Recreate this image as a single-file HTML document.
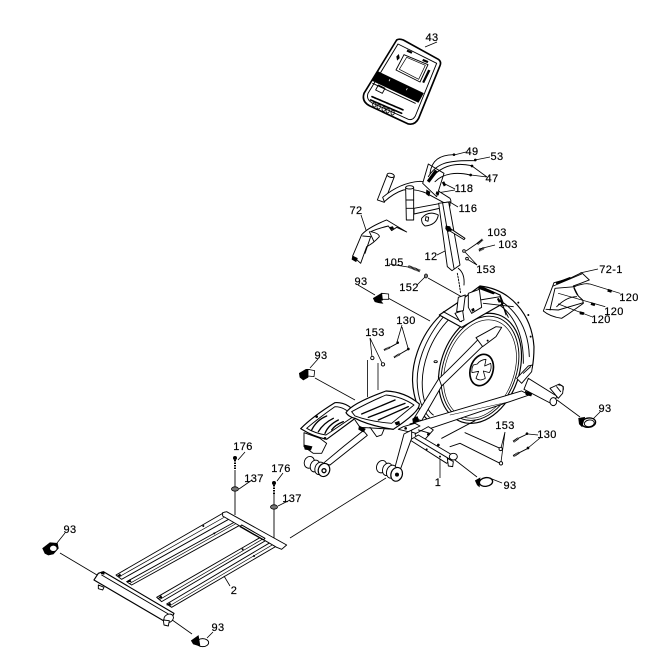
<!DOCTYPE html>
<html><head><meta charset="utf-8"><style>
html,body{margin:0;padding:0;background:#fff}
svg{display:block}
text{font-family:"Liberation Sans",sans-serif;font-size:11px;fill:#000;text-anchor:middle;letter-spacing:.4px;stroke:#000;stroke-width:.2px}
.z{fill:#fff;stroke:#000;stroke-width:2.8;stroke-linejoin:round;stroke-linecap:round}
.n{fill:none;stroke:#000;stroke-width:2.8;stroke-linejoin:round;stroke-linecap:round}
.k{fill:#000;stroke:#000;stroke-width:2}
.h{fill:none;stroke:#000;stroke-width:8;stroke-dasharray:3 1}
.l{fill:none;stroke:#000;stroke-width:.8}
</style></head><body>
<svg width="668" height="651" viewBox="0 0 668 651" xmlns="http://www.w3.org/2000/svg">
<rect width="668" height="651" fill="#fff"/>

<!-- leader / exploded lines in page coords -->
<g class="l">
<path d="M60 553L97 575"/><path d="M168 617L192 634"/>
<path d="M290 538L386 478"/>
<path d="M315 378L355 400"/><path d="M388 298L430 321"/><path d="M428 278L462 297"/>
<path d="M455 460L477 477M557 400L580 417"/>
<path d="M505 432L501 448M505 432L501 462M538 435L528 434M540 438L528 448"/>
<path d="M440 457V478"/>
<path d="M65 533L57 543M213 632L207 638M502 483L492 479M600 412L592 420M318 359L310 368M358 285L375 295"/>
<path d="M230 586L224 576M437 42L425 47"/>
<path d="M361 215L367 233M437 255L453 247"/>
<path d="M466 152L454 155M490 157L475 160M487 177L472 166M487 177L471 175"/>
<path d="M455 189L443 183M455 190L437 193M458 207L430 190"/>
<path d="M482 240L466 251M495 245L479 249M477 265L465 252M477 265L467 259"/>
<path d="M389 264L408 267M417 285L426 276"/>
<path d="M370 338L372 357M370 338L382 363M402 325L397 342M402 327L408 348"/>
<path d="M367.5 360V397M378 363V390"/>
<path d="M245 452L238 460M283 473L277 481M252 480L239 489M290 500L278 506"/>
<path d="M598 269L580 273"/>
</g>

<!-- 43 console -->
<g transform="translate(340,20) scale(.3333)">
<path class="z" style="stroke-width:5" d="M170 60Q178 55 190 60L295 118Q305 125 300 137L236 295Q225 316 205 312L90 258Q64 245 72 220Z"/>
<path class="n" d="M174 72L290 130L226 288Q218 302 205 298L95 248Q78 238 84 220Z"/>
<path class="z" d="M192 104L264 134L240 186L168 150Z"/>
<path class="z" style="stroke-width:2" d="M200 112L256 136L236 178L178 148Z"/>
<path class="k" d="M203 90L216 96L214 100L201 94ZM250 118L264 124L262 128L248 122Z"/>
<path class="k" d="M265 150L248 186L252 188L270 152Z"/><path class="k" d="M170 110l6 -6l2 10l-6 6Z"/>
<path class="k" d="M112 154L250 220L235 247L98 182Z"/>
<path fill="#fff" d="M146 183l3-6 2 1-3 6zM198 210l3-6 2 1-3 6z"/>
<path class="n" d="M98 190L226 250M115 195l20 10-8 15-20-10z"/>
<path class="n" d="M96 230L190 270M92 240L185 280" style="stroke-width:5;stroke-dasharray:5 3"/>
<g class="n" style="stroke-width:2.5"><ellipse cx="103" cy="254" rx="5" ry="7"/><ellipse cx="116" cy="260" rx="5" ry="7"/><ellipse cx="131" cy="267" rx="5" ry="7"/><ellipse cx="143" cy="272" rx="5" ry="7"/><ellipse cx="158" cy="278" rx="5" ry="7"/></g>
</g>

<!-- handles + mast -->
<g transform="translate(340,140) scale(.3333)">
<path class="z" d="M142 103L163 110L133 187L112 180Z"/><ellipse class="z" cx="152" cy="106" rx="11" ry="6" transform="rotate(15 152 106)"/>
<path class="z" d="M128 172Q180 128 240 124Q262 124 300 156L330 175Q340 195 315 190L260 160Q225 145 190 150Q160 160 133 185Z"/>
<path class="z" d="M222 205L330 185L330 198L222 222Z"/>
<path class="z" d="M197 142L221 142L221 240L199 240Z"/><ellipse class="z" cx="209" cy="142" rx="12" ry="5"/>
<path class="n" d="M199 180H221M199 205H221"/>
<path class="z" d="M265 72L312 100L290 170L248 130Z"/>
<path class="k" d="M262 122L285 90L292 95L268 127Z"/><path class="k" d="M260 150l10 6-3 12-8-6zM290 155l7 3-2 7-7-3zM312 125l5 10-5 3-5-10z"/>
<path class="n" d="M270 100C275 60 300 45 340 44M265 110C290 70 320 60 405 62M270 118C300 80 340 65 395 77M285 125C310 100 350 95 390 105"/>
<circle class="k" cx="342" cy="44" r="3"/><circle class="k" cx="406" cy="60" r="3"/><circle class="k" cx="396" cy="78" r="3"/><circle class="k" cx="392" cy="105" r="3"/>
<path class="n" d="M245 235Q265 210 295 225Q290 255 255 258Q243 250 245 235Z"/><path class="n" d="M258 230l8 2-2 12-8-3z"/>
<path class="z" d="M296 190L326 186L360 375L336 392L322 380Z"/>
<path class="n" d="M308 190L342 385"/>
<path class="z" d="M330 265L375 295L372 299L328 272Z"/><path class="k" d="M318 258l12 2 4 12-11 3-6-9z"/>
<path class="n" d="M355 385Q375 400 372 435"/><path class="n" d="M352 400Q358 430 362 462" style="stroke-dasharray:5 4"/>
<path class="h" d="M205 379L240 393"/>
<ellipse cx="258" cy="408" rx="5" ry="6" fill="#777" stroke="#000" stroke-width="2"/>
<path class="h" style="stroke-width:7" d="M412 312L428 298M417 332L432 324"/>
<circle class="z" cx="372" cy="333" r="4"/><circle class="z" cx="381" cy="356" r="4"/>
<path class="z" d="M38 348L65 284Q85 262 140 240L200 276L170 262L155 272L145 258Q115 265 92 275Q118 280 118 290Q100 310 80 320L62 370Z"/>
<path class="n" d="M68 288L92 290L75 340M88 275L102 305"/>
<path class="k" d="M38 348L52 355L48 365L36 358Z"/>
<path class="k" d="M150 262l8 -2 3 6-8 3z"/>
</g>

<!-- flywheel -->
<g transform="translate(400,270) scale(.3333)">
<!-- casing arcs -->
<path class="z" style="stroke-width:3.5" d="M122 135C60 195 25 290 42 370C50 410 65 435 85 450L150 440L190 300L240 140L240 48C330 58 395 130 402 230Q402 270 396 296L350 330L300 200Z" fill="#fff"/>
<rect x="70" y="150" width="0" height="0"/>
<path class="n" d="M135 135C75 205 40 290 55 370C62 405 72 425 88 442M150 145C90 205 60 290 68 365C72 400 85 425 100 435"/>
<path class="n" d="M250 85C320 100 372 165 370 280M240 72C320 82 385 150 388 260M245 135C305 130 350 190 356 280"/>
<!-- disc -->
<ellipse class="z" cx="240" cy="295" rx="118" ry="170" transform="rotate(19 240 295)" style="stroke-width:3.5"/>
<ellipse class="n" cx="240" cy="295" rx="110" ry="161" transform="rotate(19 240 295)"/>
<ellipse class="n" cx="240" cy="297" rx="103" ry="152" transform="rotate(19 240 297)" style="stroke-width:2"/>
<!-- hub -->
<ellipse class="n" cx="245" cy="300" rx="34" ry="48" transform="rotate(17 245 300)" style="stroke-width:5"/>
<path class="n" style="stroke-width:2.4" d="M232 282Q240 270 258 268L254 288L272 280Q276 296 268 308L250 303L256 325Q240 335 228 325L236 304L216 308Q214 295 220 285Z"/>
<!-- housing top -->
<path class="z" d="M118 135L170 100L240 48L300 75L310 100L240 140L185 172Z" style="stroke-width:3.5"/>
<path class="n" d="M130 125L185 155M240 90L300 80L318 135M250 100L340 110"/>
<path class="z" d="M175 82L196 75L190 122L170 125Z"/><path class="z" d="M205 70L238 58L245 112L215 130L205 112Z"/>
<path class="z" d="M165 130L188 122L192 150L180 155Z"/>
<path class="k" d="M235 55L280 72L285 68L240 49ZM296 85l5 10-4 2-5-10zM215 118l6-3 2 6-6 3z"/>
<path class="n" d="M300 90L325 142"/>
<circle class="k" cx="355" cy="98" r="2"/><circle class="k" cx="392" cy="200" r="2"/><circle class="k" cx="385" cy="135" r="2"/>
<ellipse class="n" cx="107" cy="275" rx="5" ry="3"/>
<!-- arm -->
<path class="z" d="M42 445L115 328Q170 275 235 208L262 215L125 348L65 452Z"/>
<path class="n" d="M115 320L125 348"/>
<path class="z" d="M228 203L288 170L305 172L288 200L248 230Z"/><circle class="k" cx="263" cy="212" r="2"/>
<!-- lower stabilizer -->
<path class="z" d="M30 462L365 363L388 375L48 490L30 485Z"/>
<path class="n" d="M150 435L330 395" style="stroke-width:1.6"/>
<path class="k" d="M38 447L52 440L56 452L40 460Z"/><path class="k" d="M376 364L396 370L393 378L378 374Z"/>
<path class="z" d="M350 325L385 288L398 285L395 305L365 340Z"/><path class="n" d="M370 310L392 290"/>
<!-- rear stabilizer -->
<path class="z" d="M385 325L470 378L462 405L372 358Z"/>
<ellipse class="z" cx="460" cy="395" rx="10" ry="12"/><path class="z" d="M450 355L478 342L490 350L488 370L475 385Z"/><path class="n" d="M470 350L482 365"/>
<path class="n" d="M476 345Q492 345 490 360"/>
<!-- 93 right -->
<ellipse class="z" cx="566" cy="458" rx="21" ry="14" transform="rotate(-8 566 458)" style="stroke-width:4"/>
<path class="k" d="M536 445L554 442L546 470L538 462Z"/>
<ellipse class="z" cx="568" cy="460" rx="15" ry="10" transform="rotate(-8 568 460)"/>
<ellipse class="z" cx="258" cy="636" rx="20" ry="13" transform="rotate(-8 258 636)" style="stroke-width:4"/>
<path class="k" d="M226 632L240 624L238 650L232 645Z"/>
<!-- front tube -->
<path class="z" d="M45 492L85 470L100 480L60 525Z"/><path class="n" d="M55 480L90 490"/><circle class="k" cx="85" cy="493" r="3"/>
<path class="z" d="M30 510L55 495L165 560L140 580Z"/><path class="n" d="M45 505L150 568"/>
<ellipse class="z" cx="160" cy="560" rx="12" ry="10"/><path class="z" d="M142 565L160 575L158 590L145 588Z"/>
<circle class="k" cx="80" cy="538" r="2"/><circle class="k" cx="120" cy="560" r="2"/><circle class="k" cx="115" cy="525" r="3"/>
<path class="n" d="M125 505L225 452M195 488L300 535M150 530L180 520L300 580"/>
<path class="h" d="M340 515L355 505M340 558L358 548" style="stroke-width:7"/>
<path class="n" d="M355 505L382 492M358 548L384 535"/>
<circle class="k" cx="381" cy="491" r="3"/><circle class="k" cx="384" cy="534" r="3"/>
<circle class="z" cx="302" cy="537" r="5"/><circle class="z" cx="303" cy="580" r="5"/>
</g>

<!-- 72-1 -->
<g transform="translate(530,260) scale(.3333)">
<path class="z" d="M40 153L72 68L120 55L155 38L178 60L152 70L130 78L140 98L145 108L158 120L160 130L115 162L95 175Q60 170 40 153Z"/>
<path class="n" d="M70 78L155 42M75 85L60 150M75 85L135 80M80 140Q110 110 140 110M48 148L85 150L160 128"/>
<path class="k" d="M78 68L120 52L122 56L80 72Z"/>
<path class="n" d="M132 80Q165 68 178 72M142 105Q136 95 132 85"/>
<path class="k" d="M235 88l10 3-2 6-10-3zM185 128l10 3-2 6-10-3zM150 155l12 3-2 6-10-2z"/>
<path class="n" d="M85 100L225 140M85 132L185 170M180 72L270 100" style="stroke-width:2.2"/>
</g>

<!-- bolts 130 left + part 93 -->
<g transform="translate(340,270) scale(.3333)">
<path class="h" style="stroke-width:6" d="M132 240L150 232M162 262L180 252"/>
<path class="n" d="M150 232L172 220M180 252L204 238"/>
<circle class="k" cx="173" cy="218" r="3"/><circle class="k" cx="205" cy="237" r="3"/>
<circle class="z" cx="97" cy="264" r="5"/><circle class="z" cx="129" cy="283" r="5"/>
<path class="k" d="M100 85L125 70L128 90L122 92L128 100L115 98L105 95Z"/>
<path class="z" style="stroke-width:2.4" d="M125 70L146 72L146 88L127 88Z"/>
</g>

<!-- pedals -->
<g transform="translate(280,340) scale(.3333)">
<path class="k" d="M58 100L78 88L88 88L84 112L70 120L60 112Z"/><path class="z" style="stroke-width:2.4" d="M84 88L104 92L102 110L84 108Z"/>
<path class="z" d="M130 370L190 320L250 272L262 286L150 375Z"/>
<path class="z" d="M340 400L372 282L395 270L395 295L355 405Z"/>
<path class="z" d="M370 260L405 250L420 258L385 275L355 268Z"/><circle class="k" cx="377" cy="265" r="3"/>
<circle class="k" cx="408" cy="238" r="7"/>
<path class="z" d="M62 266Q100 228 165 188Q205 185 235 228L140 298Q100 290 62 266Z" style="stroke-width:3.5"/>
<path class="n" d="M80 265Q115 235 165 200Q195 200 220 230L138 285Q105 280 80 265Z"/>
<path class="n" d="M95 270Q110 240 140 228M115 275Q130 250 160 235M135 280Q145 255 175 240M155 270Q165 255 190 245" style="stroke-width:4"/>
<path class="z" d="M72 278L120 295L140 310L125 340L100 340L72 320Z"/>
<path class="k" d="M72 315L96 320L92 330L75 328Z"/>
<circle class="k" cx="110" cy="230" r="3"/><circle class="k" cx="135" cy="295" r="3"/>
<ellipse class="z" cx="88" cy="367" rx="15" ry="18" transform="rotate(20 88 367)"/>
<ellipse class="z" cx="105" cy="378" rx="14" ry="18" transform="rotate(20 105 378)"/>
<ellipse class="z" cx="119" cy="385" rx="14" ry="19" transform="rotate(20 119 385)"/>
<ellipse class="z" cx="132" cy="390" rx="17" ry="20" transform="rotate(20 132 390)" style="stroke-width:3.5"/>
<circle class="z" cx="132" cy="392" r="6" style="stroke-width:4"/>
<path class="z" d="M198 218Q215 190 318 153Q375 155 418 192Q420 215 340 268Q270 258 225 235Q205 230 198 218Z" style="stroke-width:3.5"/>
<path class="n" d="M215 215Q270 185 318 165Q365 170 402 195L335 250Q270 245 225 228Z"/>
<path class="n" d="M245 222L345 180M265 232L375 190M295 240L385 200" style="stroke-width:4"/>
<path class="n" d="M225 240L240 262L340 268M270 262L290 290L305 285L312 268"/>
<path class="k" d="M238 258l18 9-6 9-14-8zM345 248l12-4 2 8-10 3z"/>
<ellipse class="z" cx="305" cy="380" rx="15" ry="19" transform="rotate(20 305 380)"/>
<ellipse class="z" cx="322" cy="388" rx="14" ry="19" transform="rotate(20 322 388)"/>
<ellipse class="z" cx="335" cy="395" rx="15" ry="20" transform="rotate(20 335 395)"/>
<ellipse class="z" cx="350" cy="403" rx="17" ry="21" transform="rotate(20 350 403)" style="stroke-width:3.5"/>
<circle class="k" cx="351" cy="404" r="5"/>
</g>

<!-- base frame -->
<g transform="translate(30,490) scale(.3333)">
<g class="n">
<path d="M258 255L585 66L610 80L275 268Z"/><path d="M290 275L625 90L640 100L305 285Z"/>
<path d="M380 322L695 140L710 150L395 335Z"/><path d="M410 342L725 155L745 165L425 352Z"/>
<path d="M268 260L600 72M300 280L632 93M390 328L702 145M418 348L735 160" style="stroke-width:2"/>
</g>
<path class="k" d="M385 325l8-8 3 6zM262 258l8-6 3 6zM292 275l8-6 3 6zM412 345l8-6 3 6z"/>
<circle class="k" cx="520" cy="108" r="2"/><circle class="k" cx="553" cy="130" r="2"/><circle class="k" cx="638" cy="178" r="2"/><circle class="k" cx="672" cy="198" r="2"/>
<path class="z" d="M578 68L590 65L770 165L755 178L740 172L578 78Z"/>
<path class="n" d="M635 105L705 145L700 150L630 110Z" style="stroke-width:3"/>
<path class="z" d="M205 250L220 245L432 370L420 395L400 392L192 270Z" style="stroke-width:3.5"/>
<path class="n" d="M215 255L415 372"/>
<ellipse class="z" cx="416" cy="385" rx="15" ry="12" transform="rotate(-30 416 385)"/>
<path class="z" d="M400 390L418 392L415 408L402 405Z"/><path class="z" d="M205 285L222 292L218 300L205 296Z"/>
<path class="k" d="M215 246l8 2-1 5-8-2z"/>
<path class="k" d="M38 175L60 158L82 160L85 175L70 192L55 195L45 190Z"/>
<ellipse cx="70" cy="175" rx="11" ry="9" fill="#fff" stroke="#000" stroke-width="2"/>
<ellipse class="z" cx="518" cy="458" rx="18" ry="12"/>
<path class="k" d="M484 452L505 437L510 468L490 462Z"/>
</g>
<!-- small fasteners -->
<circle cx="235" cy="458" r="2" fill="#000"/><ellipse cx="235" cy="489" rx="3.5" ry="2.2" fill="#777" stroke="#000" stroke-width=".8"/>
<path d="M235 460v9" stroke="#000" stroke-width="2" stroke-dasharray="1.5 1"/>
<circle cx="274" cy="483" r="2" fill="#000"/><ellipse cx="274" cy="507" rx="3.5" ry="2.2" fill="#777" stroke="#000" stroke-width=".8"/>
<path d="M274 485v9" stroke="#000" stroke-width="2" stroke-dasharray="1.5 1"/>
<path d="M235 470V487M235 491V515M274 494V505M274 509V538" stroke="#000" stroke-width=".9"/>

<!-- labels -->
<text x="432" y="41">43</text><text x="472" y="155">49</text><text x="497" y="160">53</text><text x="492" y="182">47</text>
<text x="464" y="192">118</text><text x="468" y="212">116</text><text x="356" y="214">72</text><text x="431" y="260">12</text>
<text x="497" y="236">103</text><text x="508" y="248">103</text><text x="394" y="266">105</text><text x="486" y="273">153</text>
<text x="409" y="291">152</text><text x="361" y="285">93</text><text x="611" y="273">72-1</text><text x="629" y="301">120</text>
<text x="614" y="315">120</text><text x="601" y="323">120</text><text x="406" y="324">130</text><text x="375" y="336">153</text>
<text x="321" y="359">93</text><text x="605" y="412">93</text><text x="505" y="429">153</text><text x="547" y="438">130</text>
<text x="510" y="489">93</text><text x="438" y="486">1</text><text x="243" y="450">176</text><text x="254" y="482">137</text>
<text x="281" y="472">176</text><text x="292" y="502">137</text><text x="234" y="594">2</text><text x="70" y="533">93</text><text x="218" y="631">93</text>
</svg>
</body></html>
